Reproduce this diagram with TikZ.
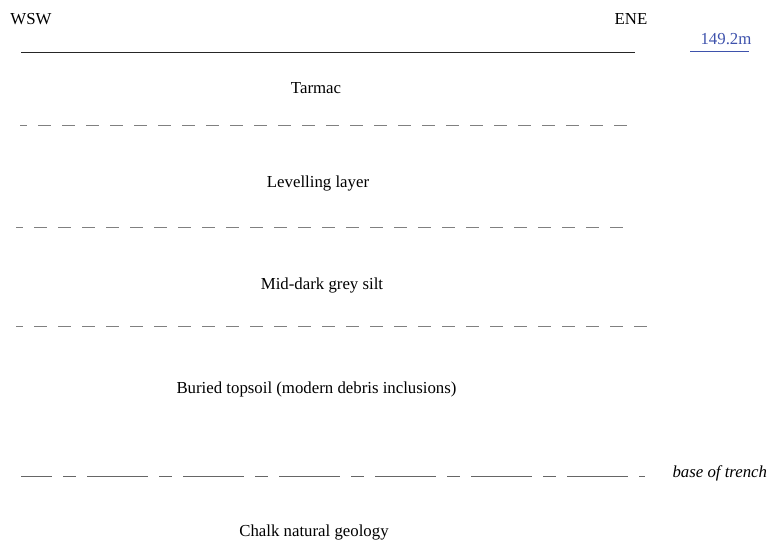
\documentclass[tikz,border=0pt]{standalone}
\usepackage{fontspec}
\setmainfont{Liberation Serif}
\usepackage{tikz}
\definecolor{levelblue}{RGB}{62,82,172}

\begin{document}
\begin{tikzpicture}
            [x=1pt,y=-1pt,line width=1pt,
             txt/.style={anchor=base,inner sep=0pt,font=\fontsize{16.8}{20}\selectfont},
             layerline/.style={draw=gray,dash pattern=on 13pt off 11pt,dash phase=6pt},
             trenchline/.style={draw=gray!80!black,dash pattern=on 61pt off 11pt on 13pt off 11pt,dash phase=30pt}]
            \useasboundingbox (0, 0) rectangle (771, 543);
            % orientation and surface
            \node [txt] (wsw) at (31, 25) {WSW};
            \node [txt] (ene) at (631, 25) {ENE};
            \node [txt, text=levelblue] (height) at (726, 45) {149.2m};
            \coordinate (s0) at (21, 53);
            \coordinate (s1) at (635, 53);
            \draw [black!85] (s0) -- (s1);
            \coordinate (b0) at (690, 52);
            \coordinate (b1) at (749, 52);
            \draw [levelblue] (b0) -- (b1);
            % layers
            \node [txt] (tarmac) at (316, 93) {Tarmac};
            \coordinate (l1a) at (20, 125);
            \coordinate (l1b) at (627, 125);
            \draw [layerline] (l1a) -- (l1b);
            \node [txt] (level) at (318, 187) {Levelling layer};
            \coordinate (l2a) at (16, 227);
            \coordinate (l2b) at (623, 227);
            \draw [layerline] (l2a) -- (l2b);
            \node [txt] (silt) at (322, 289) {Mid-dark grey silt};
            \coordinate (l3a) at (16, 326);
            \coordinate (l3b) at (647, 326);
            \draw [layerline] (l3a) -- (l3b);
            \node [txt] (topsoil) at (316.5, 393) {Buried topsoil (modern debris inclusions)};
            % base of trench
            \coordinate (t0) at (21, 476);
            \coordinate (t1) at (645, 476);
            \draw [trenchline] (t0) -- (t1);
            \node [txt, anchor=base west, font=\fontsize{16.8}{20}\selectfont\itshape] (base) at (672, 477) {base of trench};
            \node [txt] (chalk) at (314, 536) {Chalk natural geology};
        \end{tikzpicture}
\end{document}
